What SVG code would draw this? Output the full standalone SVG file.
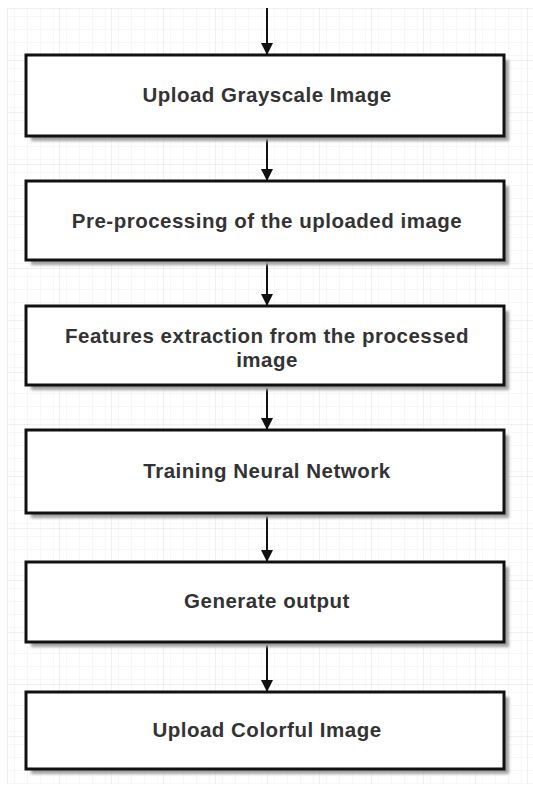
<svg xmlns="http://www.w3.org/2000/svg" width="533" height="787" viewBox="0 0 533 787">
  <defs>
    <pattern id="grid-minor" width="13" height="13" patternUnits="userSpaceOnUse" x="7" y="8">
      <path d="M13 0H0V13" fill="none" stroke="#efefef" stroke-width="1"/>
    </pattern>
    <pattern id="grid-major" width="52" height="52" patternUnits="userSpaceOnUse" x="7" y="8">
      <rect width="52" height="52" fill="url(#grid-minor)"/>
      <path d="M52 0H0V52" fill="none" stroke="#e2e2e2" stroke-width="1"/>
    </pattern>
    <filter id="soft-shadow" x="-5%" y="-20%" width="115%" height="150%">
      <feGaussianBlur stdDeviation="1.8"/>
    </filter>
    <marker id="arrowhead" markerWidth="12" markerHeight="12" refX="11" refY="6" orient="auto" markerUnits="userSpaceOnUse">
      <path d="M0,0 L12,6 L0,12 Z" fill="#111"/>
    </marker>
  </defs>
  <style>
    .shadow { fill: #a0a0a0; filter: url(#soft-shadow); }
    .box { fill: #ffffff; stroke: #111; stroke-width: 3; }
    .label { font-family: "Liberation Sans", Arial, sans-serif; font-weight: bold; font-size: 20.5px; letter-spacing: 0.5px; fill: #333333; text-anchor: middle; }
    .edge { stroke: #111; stroke-width: 2; fill: none; marker-end: url(#arrowhead); }
  </style>

  <!-- page background with grid paper -->
  <rect width="533" height="787" fill="#ffffff"/>
  <rect x="7" y="8" width="526" height="776" fill="url(#grid-major)"/>

  <g id="connectors">
    <line class="edge" x1="267" y1="8" x2="267" y2="54"/>
    <line class="edge" x1="267" y1="137" x2="267" y2="180"/>
    <line class="edge" x1="267" y1="261" x2="267" y2="305"/>
    <line class="edge" x1="267" y1="386" x2="267" y2="429"/>
    <line class="edge" x1="267" y1="514" x2="267" y2="561"/>
    <line class="edge" x1="267" y1="643" x2="267" y2="691"/>
  </g>

  <g id="upload-grayscale">
    <rect class="shadow" x="31" y="60" width="478" height="81"/>
    <rect class="box" x="26" y="55" width="478" height="81"/>
    <text class="label" x="267" y="102">Upload Grayscale Image</text>
  </g>

  <g id="preprocessing">
    <rect class="shadow" x="31" y="186" width="478" height="79"/>
    <rect class="box" x="26" y="181" width="478" height="79"/>
    <text class="label" x="267" y="228">Pre-processing of the uploaded image</text>
  </g>

  <g id="feature-extraction">
    <rect class="shadow" x="31" y="311" width="478" height="79"/>
    <rect class="box" x="26" y="306" width="478" height="79"/>
    <text class="label" x="267" y="343">Features extraction from the processed<tspan x="267" dy="24">image</tspan></text>
  </g>

  <g id="training">
    <rect class="shadow" x="31" y="435" width="478" height="83"/>
    <rect class="box" x="26" y="430" width="478" height="83"/>
    <text class="label" x="267" y="478">Training Neural Network</text>
  </g>

  <g id="generate-output">
    <rect class="shadow" x="31" y="567" width="478" height="80"/>
    <rect class="box" x="26" y="562" width="478" height="80"/>
    <text class="label" x="267" y="608">Generate output</text>
  </g>

  <g id="upload-colorful">
    <rect class="shadow" x="31" y="697" width="478" height="77"/>
    <rect class="box" x="26" y="692" width="478" height="77"/>
    <text class="label" x="267" y="737">Upload Colorful Image</text>
  </g>
</svg>
